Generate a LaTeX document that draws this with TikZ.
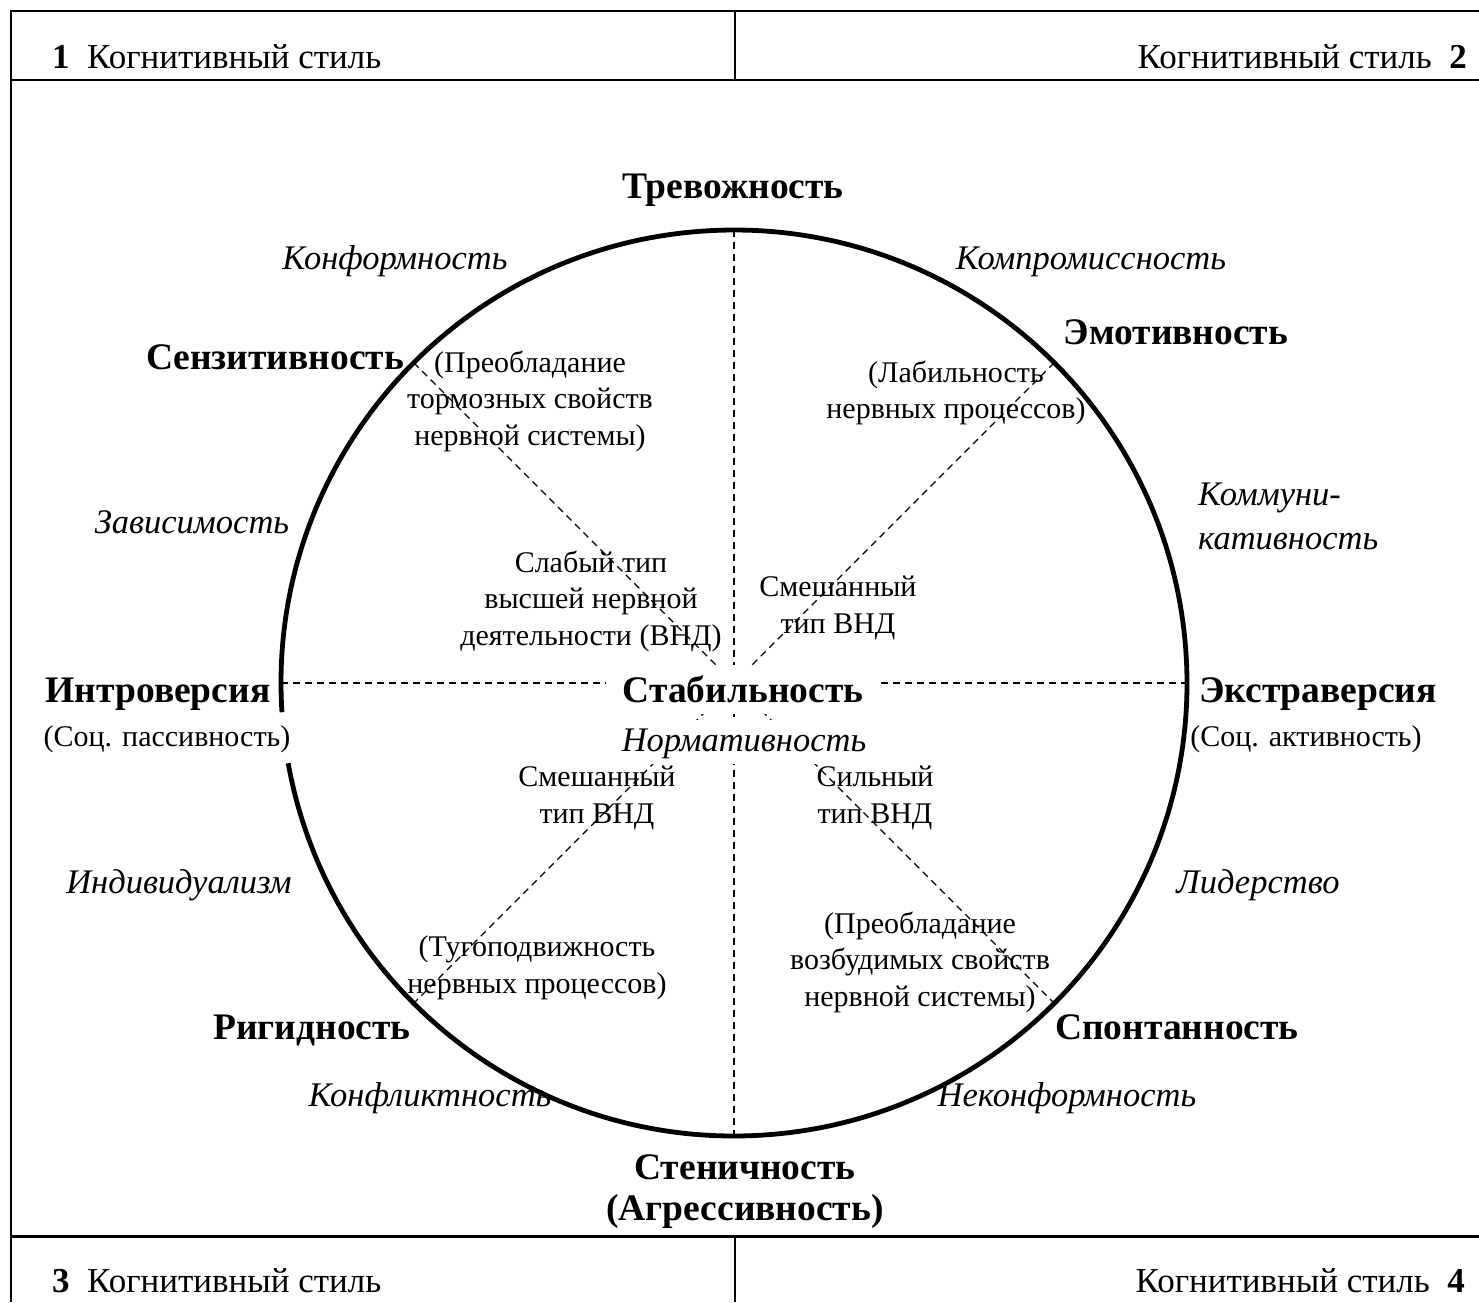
\documentclass[tikz,border=0pt]{standalone}
\usepackage{fontspec}
\setmainfont{Liberation Serif}
\begin{document}
\begin{tikzpicture}[x=1pt,y=-1pt,
  hdr/.style={font=\fontsize{35}{40}\selectfont, inner sep=0pt},
  txt/.style={font=\fontsize{30}{36.5}\selectfont, inner sep=0pt, align=center},
  bld/.style={font=\fontsize{37.5}{41}\selectfont\bfseries, inner sep=0pt, align=center},
  ital/.style={font=\fontsize{34.5}{44}\selectfont\itshape, inner sep=0pt, align=center},
  frameline/.style={line width=2pt},
  ring/.style={line width=4.8pt},
  axisline/.style={line width=1.3pt, dash pattern=on 7pt off 5pt}]
\useasboundingbox (0,0) rectangle (1479,1302);
% frame
\draw[frameline] (1479,11) -- (11,11) -- (11,1302);
\draw[frameline] (11,80) -- (1479,80);
\draw[line width=3pt] (11,1236) -- (1479,1236);
\draw[frameline] (735,11) -- (735,80);
\draw[frameline] (735,1236) -- (735,1302);
% header texts
\node[hdr, anchor=base west] (h1) at (52,68) {\textbf{1}~~Когнитивный стиль};
\node[hdr, anchor=base east] (h2) at (1467,68) {Когнитивный стиль~~\textbf{2}};
\node[hdr, anchor=base west] (h3) at (52,1292) {\textbf{3}~~Когнитивный стиль};
\node[hdr, anchor=base east] (h4) at (1465,1292) {Когнитивный стиль~~\textbf{4}};
% circle
\coordinate (O) at (734,683);
\draw[ring] (O) ++(176.3:453) arc[start angle=176.3, end angle=529.8, radius=453];
\coordinate (T) at (734,230);
\coordinate (B) at (734,1136);
\coordinate (L) at (281,683);
\coordinate (R) at (1187,683);
\coordinate (UL) at (413.7,362.7);
\coordinate (UR) at (1054.3,362.7);
\coordinate (LL) at (413.7,1003.3);
\coordinate (LR) at (1054.3,1003.3);
% bold labels
\node[bld, anchor=base] (tre) at (733,198) {Тревожность};
\node[bld, anchor=base] (sen) at (275,369) {Сензитивность};
\node[bld, anchor=base] (emo) at (1176,344) {Эмотивность};
\node[bld, anchor=base] (intro) at (158,702) {Интроверсия};
\node[bld, anchor=base] (extra) at (1318,702) {Экстраверсия};
\node[bld, anchor=base] (rig) at (312,1039) {Ригидность};
\node[bld, anchor=base] (spon) at (1177,1039) {Спонтанность};
\node[bld] (sten) at (745,1192) {Стеничность\\(Агрессивность)};
% italic labels
\node[ital, anchor=base] (konf) at (395,269) {Конформность};
\node[ital, anchor=base] (komp) at (1091,269) {Компромиссность};
\node[ital, anchor=base] (zav) at (192,533) {Зависимость};
\node[ital, anchor=west, align=left] (komm) at (1198,516) {Коммуни-\\кативность};
\node[ital, anchor=base] (ind) at (179,893) {Индивидуализм};
\node[ital, anchor=base] (lid) at (1258,893) {Лидерство};
\node[ital, anchor=base] (konfl) at (430,1106) {Конфликтность};
\node[ital, anchor=base] (nekon) at (1067,1106) {Неконформность};
% regular labels
\node[txt, anchor=base] (pass) at (167,746) {(Соц. пассивность)};
\node[txt, anchor=base] (akt) at (1306,746) {(Соц. активность)};
\node[txt] (torm) at (530,401) {(Преобладание\\тормозных свойств\\нервной системы)};
\node[txt] (lab) at (956,393) {(Лабильность\\нервных процессов)};
\node[txt] (slab) at (591,601) {Слабый тип\\высшей нервной\\деятельности (ВНД)};
\node[txt] (smur) at (838,608) {Смешанный\\тип ВНД};
\node[txt] (smll) at (597,798) {Смешанный\\тип ВНД};
\node[txt] (sil) at (875,798) {Сильный\\тип ВНД};
\node[txt] (vozb) at (920,962) {(Преобладание\\возбудимых свойств\\нервной системы)};
\node[txt] (tug) at (537,968) {(Тугоподвижность\\нервных процессов)};
% dashed axes
\draw[axisline] (T) -- (B);
\draw[axisline] (L) -- (R);
\draw[axisline] (UL) -- (LR);
\draw[axisline] (UR) -- (LL);
% centre labels on white
\node[bld, anchor=base, fill=white, inner xsep=17pt, inner ysep=0pt, text height=37pt, text depth=12pt] (stab) at (743,702) {Стабильность};
\node[ital, anchor=base, fill=white, inner xsep=2pt, inner ysep=0pt, text height=31pt, text depth=13pt] (norm) at (744,751) {Нормативность};
\end{tikzpicture}
\end{document}
